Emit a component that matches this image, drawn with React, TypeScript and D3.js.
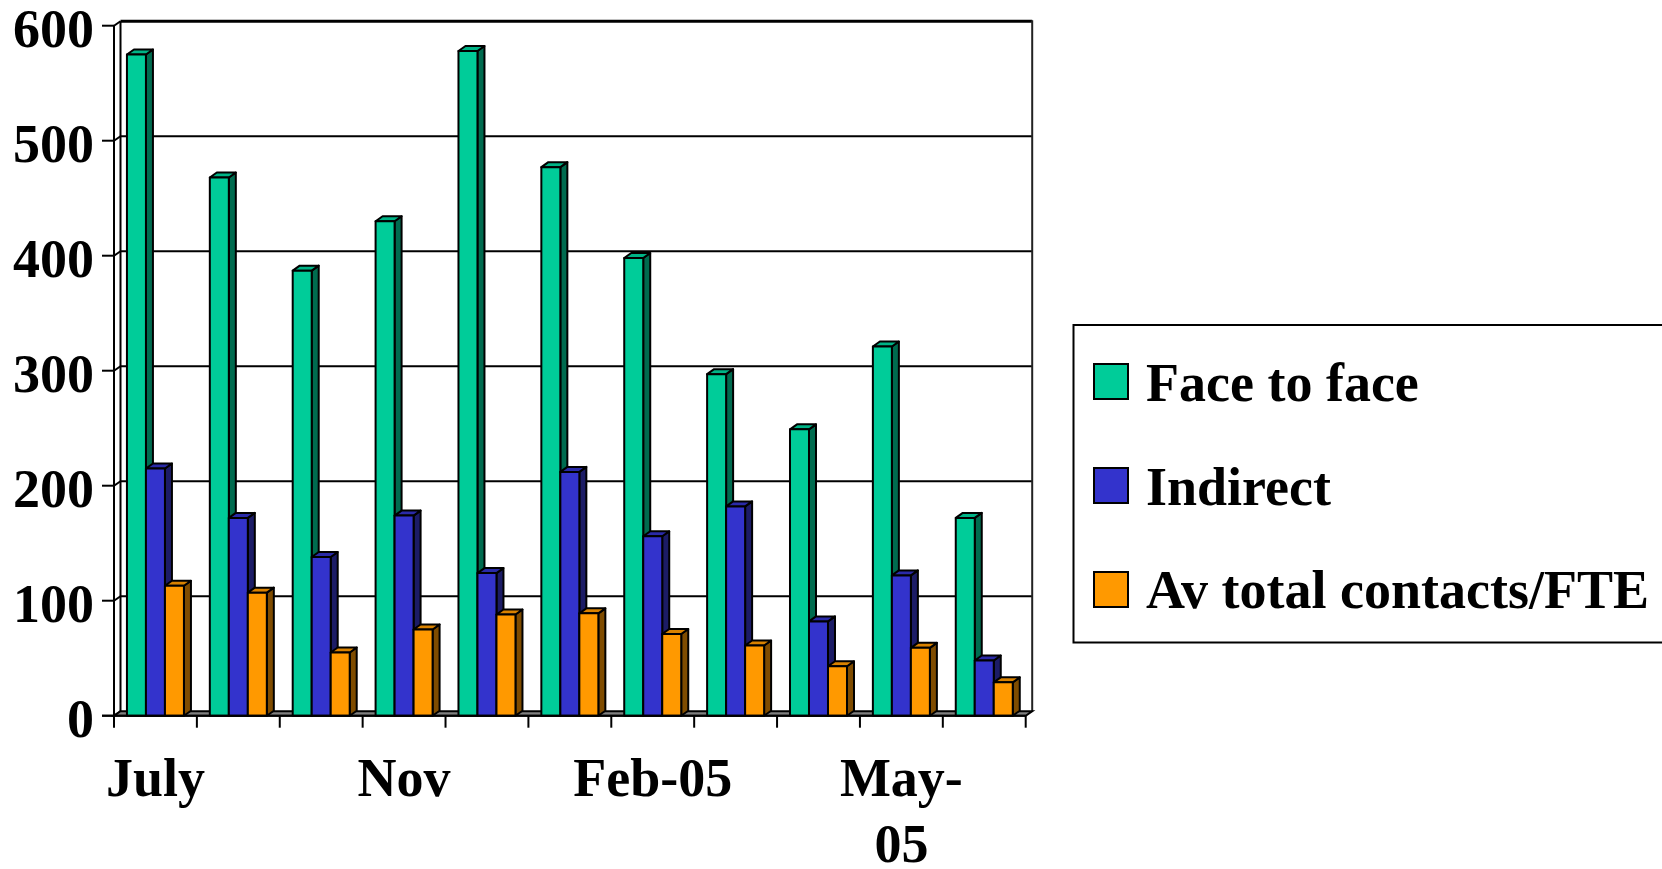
import React from "react";
import * as d3 from "d3";

const categories = ["July", "Aug", "Oct", "Nov", "Dec", "Jan-05", "Feb-05", "Mar-05", "Apr-05", "May-05", "Jun-05"];
const shownLabels = [["July"], [], [], ["Nov"], [], [], ["Feb-05"], [], [], ["May-", "05"], []];
const seriesNames = ["Face to face", "Indirect", "Av total contacts/FTE"];
const faceToFace = [575, 468, 387, 430, 578, 477, 398, 297, 249, 321, 172];
const indirect = [215, 172, 138, 174, 124, 212, 156, 182, 82, 122, 48];
const avTotal = [113, 107, 55, 75, 88, 89, 71, 61, 43, 59, 29];
const yTicks = [0, 100, 200, 300, 400, 500, 600];

const seriesValues = [faceToFace, indirect, avTotal];
const frontColors = ["#00CC99", "#3333CC", "#FF9900"];
const sideColors = ["#006B4F", "#1C1C66", "#7F4C00"];
const topColors = ["#00B386", "#2A2AA8", "#D98200"];

const FONT = "'Liberation Serif', 'Times New Roman', serif";

export default function App() {
  const left = 114;
  const right = 1025.7;
  const y0 = 715.7;
  const yTop = 25.7;
  const wdx = 6.5, wdy = -4.5; // wall depth
  const bdx = 7, bdy = -5; // bar depth
  const barW = 19;

  const x = d3.scaleBand<string>().domain(categories).range([left, right]).padding(0);
  const y = d3.scaleLinear().domain([0, 600]).range([y0, yTop]);
  const inner = d3.scaleBand<string>().domain(seriesNames).range([-barW * 1.5, barW * 1.5]).padding(0);

  const bars: React.ReactNode[] = [];
  categories.forEach((c, ci) => {
    const cx = (x(c) as number) + x.bandwidth() / 2;
    seriesNames.forEach((s, si) => {
      const v = seriesValues[si][ci];
      const bx = cx + (inner(s) as number);
      const w = inner.bandwidth();
      const yt = y(v);
      const yb = y(0);
      bars.push(
        <g key={`${ci}-${si}`} stroke="#000" strokeWidth={2} strokeLinejoin="round">
          <polygon
            points={`${bx + w},${yt} ${bx + w + bdx},${yt + bdy} ${bx + w + bdx},${yb + bdy} ${bx + w},${yb}`}
            fill={sideColors[si]}
          />
          <polygon
            points={`${bx},${yt} ${bx + bdx},${yt + bdy} ${bx + w + bdx},${yt + bdy} ${bx + w},${yt}`}
            fill={topColors[si]}
          />
          <rect x={bx} y={yt} width={w} height={yb - yt} fill={frontColors[si]} />
        </g>
      );
    });
  });

  const fontSize = 54;

  return (
    <svg
      width={1662}
      height={869}
      style={{ position: "absolute", left: 0, top: 0, background: "#fff" }}
      fontFamily={FONT}
      fontWeight="bold"
    >
      <rect x={0} y={0} width={1662} height={869} fill="#fff" />
      {/* back wall */}
      <rect x={left + wdx} y={y(600) + wdy} width={right - left} height={y(0) - y(600)} fill="#fff" stroke="none" />
      {/* gridlines on back wall */}
      {yTicks.filter((t) => t > 0 && t < 600).map((t) => (
        <line key={`g${t}`} x1={left + wdx} x2={right + wdx} y1={y(t) + wdy} y2={y(t) + wdy} stroke="#000" strokeWidth={2} />
      ))}
      {/* back wall border */}
      <line x1={left + wdx} x2={right + wdx} y1={y(600) + wdy} y2={y(600) + wdy} stroke="#000" strokeWidth={3} />
      <line x1={right + wdx} x2={right + wdx} y1={y(600) + wdy - 1} y2={y(0) + wdy} stroke="#222" strokeWidth={2} />
      {/* left side wall */}
      <line x1={left + wdx} x2={left + wdx} y1={y(600) + wdy} y2={y(0) + wdy} stroke="#000" strokeWidth={2} />
      <line x1={left} x2={left} y1={y(600)} y2={y(0)} stroke="#000" strokeWidth={2} />
      {yTicks.map((t) => (
        <g key={`t${t}`}>
          <line x1={left} x2={left + wdx} y1={y(t)} y2={y(t) + wdy} stroke="#000" strokeWidth={2} />
          <line x1={left - 12} x2={left} y1={y(t)} y2={y(t)} stroke="#000" strokeWidth={2} />
          <text x={94} y={y(t) + 21.5} fontSize={fontSize} textAnchor="end" fill="#000">
            {t}
          </text>
        </g>
      ))}
      {/* floor */}
      <polygon
        points={`${left},${y0} ${right},${y0} ${right + wdx},${y0 + wdy} ${left + wdx},${y0 + wdy}`}
        fill="#808080"
        stroke="#000"
        strokeWidth={2}
      />
      {/* x ticks */}
      {d3.range(categories.length + 1).map((k) => {
        const xx = left + k * x.step();
        return <line key={`xt${k}`} x1={xx} x2={xx} y1={y0} y2={y0 + 12} stroke="#000" strokeWidth={2} />;
      })}
      {bars}
      <line x1={left - 12} x2={right} y1={y0} y2={y0} stroke="#000" strokeWidth={2} />
      {/* x labels */}
      {categories.map((c, ci) => {
        const cx = (x(c) as number) + x.bandwidth() / 2;
        return shownLabels[ci].map((line, li) => (
          <text key={`xl${ci}-${li}`} x={cx} y={796 + li * 66} fontSize={fontSize} textAnchor="middle" fill="#000">
            {line}
          </text>
        ));
      })}
      {/* legend */}
      <rect x={1073.5} y={325} width={700} height={317.5} fill="#fff" stroke="#000" strokeWidth={2} />
      {seriesNames.map((s, si) => (
        <g key={`lg${si}`}>
          <rect x={1094} y={364 + si * 104} width={34} height={35} fill={frontColors[si]} stroke="#000" strokeWidth={2} />
          <text x={1146} y={401 + si * 103.5} fontSize={fontSize} fill="#000">
            {s}
          </text>
        </g>
      ))}
    </svg>
  );
}
